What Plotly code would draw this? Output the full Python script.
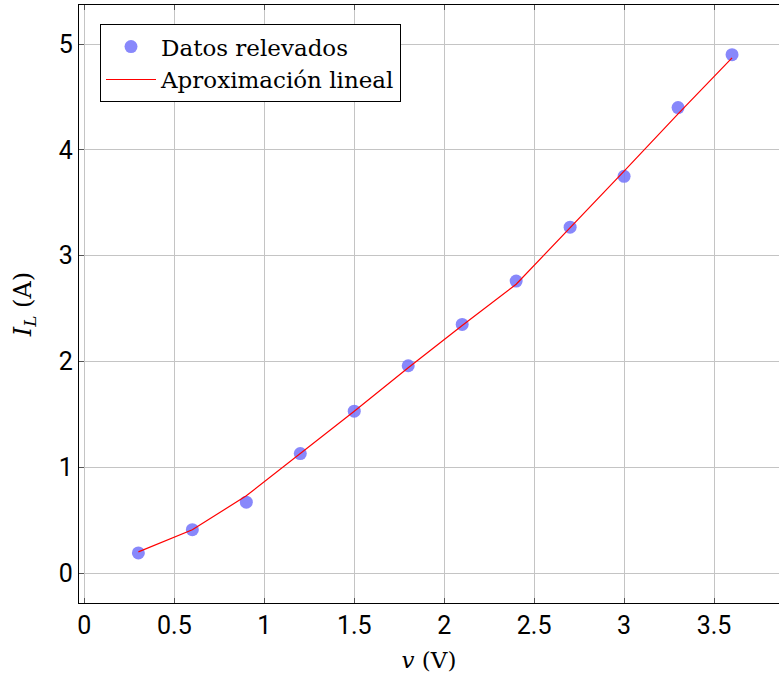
import plotly.graph_objects as go

v_data = [0.3, 0.6, 0.9, 1.2, 1.5, 1.8, 2.1, 2.4, 2.7, 3.0, 3.3, 3.6]
i_data = [0.19, 0.41, 0.67, 1.13, 1.53, 1.96, 2.35, 2.76, 3.27, 3.75, 4.40, 4.90]
i_fit = [0.20, 0.41, 0.73, 1.13, 1.53, 1.94, 2.34, 2.73, 3.26, 3.80, 4.34, 4.87]

x_ticks = [0, 0.5, 1, 1.5, 2, 2.5, 3, 3.5]
x_ticklabels = ["0", "0.5", "1", "1.5", "2", "2.5", "3", "3.5"]
y_ticks = [0, 1, 2, 3, 4, 5]
y_ticklabels = ["0", "1", "2", "3", "4", "5"]

serif = "DejaVu Serif, Liberation Serif, serif"
sans = "Roboto, Liberation Sans, sans-serif"

fig = go.Figure()
fig.add_trace(go.Scatter(
    x=v_data, y=i_data, mode="markers", name="Datos relevados",
    marker=dict(color="rgba(115,115,250,0.85)", size=13, line=dict(width=0)),
))
fig.add_trace(go.Scatter(
    x=v_data, y=i_fit, mode="lines", name="Aproximación lineal",
    line=dict(color="#ff0000", width=1.2),
))

fig.update_layout(
    width=779, height=677,
    margin=dict(l=79, r=0, t=5, b=74, autoexpand=False),
    paper_bgcolor="white", plot_bgcolor="white",
    showlegend=True,
    legend=dict(
        x=0.03, y=0.968, xanchor="left", yanchor="top",
        bgcolor="white", bordercolor="black", borderwidth=1,
        font=dict(family=serif, size=23, color="black"),
        itemwidth=50, tracegroupgap=0,
    ),
    xaxis=dict(
        range=[-0.03, 3.861], automargin=False,
        tickvals=x_ticks, ticktext=x_ticklabels,
        showgrid=True, gridcolor="#c4c4c4", gridwidth=1,
        showline=True, linecolor="black", linewidth=1.2, mirror="ticks",
        ticks="inside", ticklen=5, tickcolor="#555555",
        tickfont=dict(family=sans, size=25, color="black"),
        zeroline=False,
        title=dict(text="<i>v</i> (V)", font=dict(family=serif, size=23, color="black"), standoff=12),
    ),
    yaxis=dict(
        range=[-0.283, 5.37], automargin=False,
        tickvals=y_ticks, ticktext=y_ticklabels,
        showgrid=True, gridcolor="#c4c4c4", gridwidth=1,
        showline=True, linecolor="black", linewidth=1.2, mirror=False,
        ticks="inside", ticklen=5, tickcolor="#555555",
        tickfont=dict(family=sans, size=25, color="black"),
        zeroline=False,
        title=dict(text="<i>I</i><sub><i>L</i></sub> (A)", font=dict(family=serif, size=24, color="black"), standoff=20),
    ),
)

fig.write_html(
    "out.html",
    config={"displayModeBar": False},
    post_script="document.body.style.margin='0';document.body.style.overflow='hidden';",
)
